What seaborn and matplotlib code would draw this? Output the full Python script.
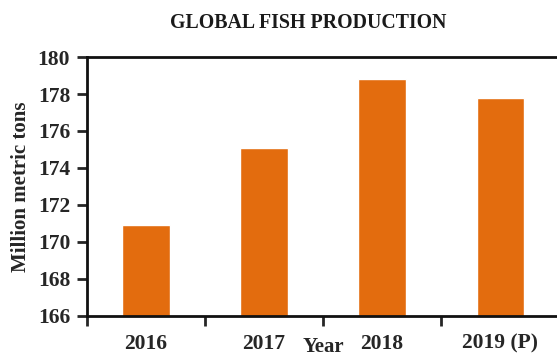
import seaborn as sns
import pandas as pd
import matplotlib.pyplot as plt

# values
years = ["2016", "2017", "2018", "2019 (P)"]
production = [170.9, 175.1, 178.8, 177.8]
yticks = [166, 168, 170, 172, 174, 176, 178, 180]

df = pd.DataFrame({"Year": years, "Production": production})

sns.set_style("ticks")
plt.rcParams["font.family"] = ["Liberation Serif", "DejaVu Serif"]
plt.rcParams["font.weight"] = "bold"

fig = plt.figure(figsize=(5.57, 3.61), dpi=100)
ax = fig.add_axes([0.156, 0.125, 0.848, 0.717])

sns.barplot(data=df, x="Year", y="Production", color="#E36C0E",
            saturation=1, width=0.4, ax=ax)

ax.set_ylim(166, 180)
ax.set_yticks(yticks)
ax.set_xlim(-0.5, 3.5)

# boundary ticks between categories
ax.set_xticks([-0.5, 0.5, 1.5, 2.5], minor=True)
ax.tick_params(axis="x", which="minor", direction="out", length=7, width=2)
ax.tick_params(axis="x", which="major", length=0, pad=13, labelsize=15.5)
ax.tick_params(axis="y", direction="out", length=7, width=2, pad=5, labelsize=15.5)

for s in ax.spines.values():
    s.set_linewidth(2)
    s.set_color("#111111")

ax.set_xlabel("Year", fontsize=15, fontweight="bold", labelpad=-12)
ax.set_ylabel("Million metric tons", fontsize=15, fontweight="bold", labelpad=5)

fig.text(0.553, 0.935, "GLOBAL FISH PRODUCTION", ha="center", va="center",
         fontsize=14.3, fontweight="bold", color="#1a1a1a")

plt.savefig("out.png", dpi=100)
